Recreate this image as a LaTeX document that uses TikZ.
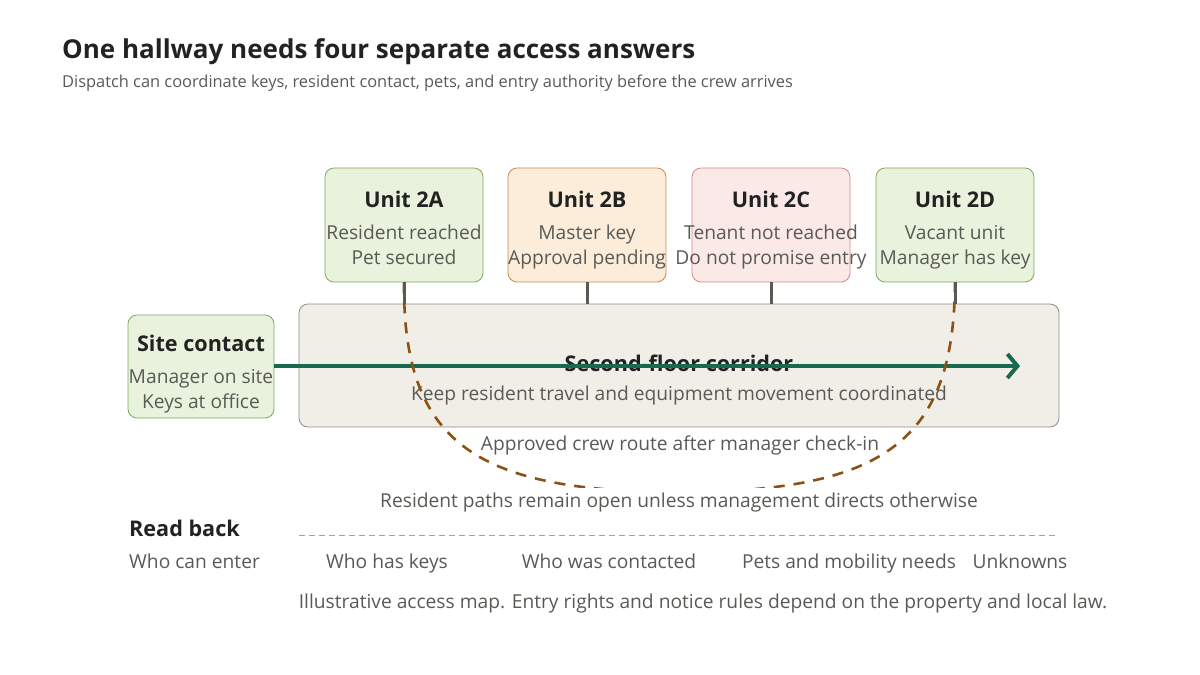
\documentclass[tikz,border=0pt]{standalone}
\usepackage{fontspec}
\setmainfont{Open Sans}
\usetikzlibrary{arrows.meta}

\definecolor{inkdark}{HTML}{222222}
\definecolor{inkgray}{HTML}{5A5A55}
\definecolor{okfill}{HTML}{E8F2DC}
\definecolor{okline}{HTML}{7FA95E}
\definecolor{waitfill}{HTML}{FBEDDA}
\definecolor{waitline}{HTML}{C88B4E}
\definecolor{stopfill}{HTML}{FBE9E8}
\definecolor{stopline}{HTML}{D48A8A}
\definecolor{hallfill}{HTML}{F1EEE7}
\definecolor{hallline}{HTML}{8F8C85}
\definecolor{crewgreen}{HTML}{17694F}
\definecolor{routebrown}{HTML}{8A5212}

\tikzset{
  unitbox/.style={draw, rounded corners=9pt, line width=0.8pt,
    minimum width=158pt, minimum height=114pt, inner sep=0pt},
  ok/.style={unitbox, fill=okfill, draw=okline},
  wait/.style={unitbox, fill=waitfill, draw=waitline},
  stop/.style={unitbox, fill=stopfill, draw=stopline},
  boxtitle/.style={font=\fontsize{21.6}{26}\selectfont\bfseries, text=inkdark,
    inner sep=0pt, text height=15.5pt, text depth=4.5pt, yshift=-2.5pt},
  boxline/.style={font=\fontsize{19.2}{23}\selectfont, text=inkgray,
    inner sep=0pt, text height=14pt, text depth=4pt, yshift=-2.5pt},
  note/.style={boxline},
  stemline/.style={draw=inkgray, line width=3pt},
  route/.style={draw=routebrown, line width=2.6pt, dash pattern=on 11pt off 9pt}
}

\begin{document}
\begin{tikzpicture}[x=1pt, y=-1pt]
    \useasboundingbox[fill=white] (0,0) rectangle (1200,675);

    % Heading
    \node[anchor=west, inner sep=0pt, text=inkdark,
          font=\fontsize{26}{30}\selectfont\bfseries] (title) at (62,52)
          {One hallway needs four separate access answers};
    \node[anchor=west, inner sep=0pt, text=inkgray,
          font=\fontsize{16.4}{20}\selectfont] (subtitle) at (62,83)
          {Dispatch can coordinate keys, resident contact, pets, and entry authority before the crew arrives};

    % Corridor and site contact
    \node[draw=hallline, fill=hallfill, rounded corners=9pt, line width=0.8pt,
          minimum width=760pt, minimum height=123pt] (hall) at (679,365.5) {};
    \node[boxtitle] (halltitle) at (679,363) {Second-floor corridor};
    \node[boxline] (hallnote) at (679,393) {Keep resident travel and equipment movement coordinated};

    \node[ok, minimum width=146pt, minimum height=103pt] (site) at (201,366.5) {};
    \node[boxtitle] at ([yshift=-29pt]site.north) {Site contact};
    \node[boxline] at ([yshift=-61pt]site.north) {Manager on site};
    \node[boxline] at ([yshift=-86pt]site.north) {Keys at office};

    % The four units
    \foreach \n/\x/\kind/\lineA/\lineB in {
        2A/404/ok/Resident reached/Pet secured,
        2B/587/wait/Master key/Approval pending,
        2C/771/stop/Tenant not reached/Do not promise entry,
        2D/955/ok/Vacant unit/Manager has key} {
        \node[\kind] (u\n) at (\x,225) {};
        \node[boxtitle] at ([yshift=-32pt]u\n.north) {Unit \n};
        \node[boxline] at ([yshift=-64pt]u\n.north) {\lineA};
        \node[boxline] at ([yshift=-89pt]u\n.north) {\lineB};
    }

    % Crew route
    \coordinate (crewend) at (1020,366);
    \draw[draw=crewgreen, line width=4.5pt,
          -{Straight Barb[length=10pt, width=24pt, line width=4pt]}]
          (site.east |- crewend) -- (crewend);
    \node[note] (crewnote) at (680,443) {Approved crew route after manager check-in};

    % Resident paths
    \coordinate (lowpoint) at (679,492);
    \draw[route] (u2A.south) .. controls (403,440) and (472,492) .. (lowpoint)
                 .. controls (886,492) and (954,440) .. (u2D.south);
    \node[note, fill=white, inner xsep=3pt, inner ysep=6pt] (residentnote) at (679,500)
          {Resident paths remain open unless management directs otherwise};

    % Stems from units down to the corridor
    \foreach \n in {2A,2B,2C,2D} {
        \draw[stemline] (u\n.south) -- (u\n.south |- hall.north);
    }

    % Read back
    \node[anchor=west, boxtitle] (readback) at (129,528) {Read back};
    \coordinate (ruleL) at (299,535);
    \coordinate (ruleR) at (1059,535);
    \draw[draw=hallline!80, line width=0.8pt, dash pattern=on 6pt off 4pt] (ruleL) -- (ruleR);
    \node[note, anchor=west] (rbA) at (129,561) {Who can enter};
    \node[note] (rbB) at (387,561) {Who has keys};
    \node[note] (rbC) at (609,561) {Who was contacted};
    \node[note] (rbD) at (849,561) {Pets and mobility needs};
    \node[note] (rbE) at (1020,561) {Unknowns};

    \node[note] (footnote) at (703,601)
          {Illustrative access map. Entry rights and notice rules depend on the property and local law.};
\end{tikzpicture}
\end{document}
